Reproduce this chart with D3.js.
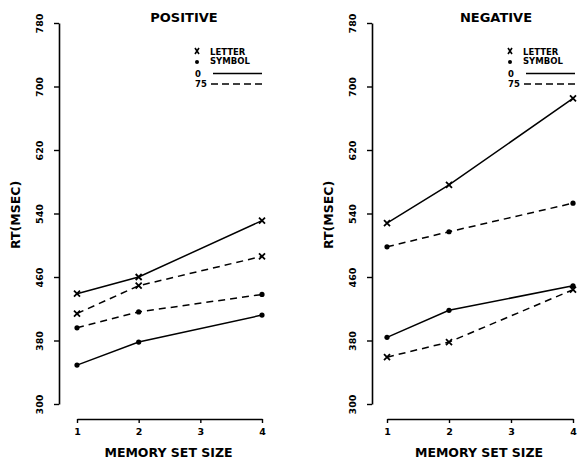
<!DOCTYPE html>
<html>
<head>
<meta charset="utf-8">
<script src="https://cdn.jsdelivr.net/npm/d3@7"></script>
<style>
  body { margin: 0; background: #fff; }
  svg text { font-family: "DejaVu Sans", sans-serif; font-weight: bold; fill: #000; }
</style>
</head>
<body>
<svg width="583" height="459"></svg>
<script>
// memory set sizes that were tested
const setSizes = [1, 2, 4];
const xTicks = [1, 2, 3, 4];
const yTicks = [300, 380, 460, 540, 620, 700, 780];

// RT in msec
const posLetter0  = [439, 460, 531];
const posLetter75 = [414, 449, 486];
const posSymbol0  = [349, 378, 412];
const posSymbol75 = [396, 416, 438];

const negLetter0  = [528, 576, 685];
const negLetter75 = [359, 378, 444];
const negSymbol0  = [384, 418, 449];
const negSymbol75 = [498, 517, 553];

const svg = d3.select("svg");

const panels = [
    { title: "POSITIVE", axisX: 59, x0: 77, x1: 262, titleX: 184, legX: 197,
      series: [
        { vals: posLetter0,  mark: "x", dash: null },
        { vals: posLetter75, mark: "x", dash: "7,5" },
        { vals: posSymbol75, mark: "o", dash: "7,5" },
        { vals: posSymbol0,  mark: "o", dash: null }
      ] },
    { title: "NEGATIVE", axisX: 372, x0: 387, x1: 573, titleX: 496, legX: 510,
      series: [
        { vals: negLetter0,  mark: "x", dash: null },
        { vals: negLetter75, mark: "x", dash: "7,5" },
        { vals: negSymbol75, mark: "o", dash: "7,5" },
        { vals: negSymbol0,  mark: "o", dash: null }
      ] }
];

function drawPanel(p) {
    const g = svg.append("g");
    const x = d3.scaleLinear().domain([1, 4]).range([p.x0, p.x1]);
    const y = d3.scaleLinear().domain([300, 780]).range([404, 23]);

    // y axis
    const ya = g.append("g")
        .attr("transform", `translate(${p.axisX},0)`)
        .call(d3.axisLeft(y).tickValues(yTicks).tickSize(5).tickSizeOuter(0).tickFormat(d3.format("d")));
    ya.select(".domain").attr("stroke-width", 1.6);
    ya.selectAll(".tick line").attr("stroke-width", 1.4);
    ya.selectAll(".tick text")
        .attr("x", 0).attr("dy", 0)
        .attr("transform", `translate(-16,0) rotate(-90)`)
        .attr("text-anchor", "middle")
        .style("font-size", "9.5px");

    // x axis
    const xa = g.append("g")
        .attr("transform", "translate(0,419)")
        .call(d3.axisBottom(x).tickValues(xTicks).tickSize(4).tickSizeOuter(0).tickFormat(d3.format("d")));
    xa.select(".domain").attr("stroke-width", 1.6);
    xa.selectAll(".tick line").attr("stroke-width", 1.4);
    xa.selectAll(".tick text").attr("y", 9).style("font-size", "9.5px");

    g.append("text")
        .attr("x", (p.x0 + p.x1) / 2 - 1).attr("y", 457)
        .attr("text-anchor", "middle")
        .style("font-size", "12.5px")
        .text("MEMORY SET SIZE");

    g.append("text")
        .attr("transform", `translate(${p.axisX - 39},215) rotate(-90)`)
        .attr("text-anchor", "middle")
        .style("font-size", "12.5px")
        .text("RT(MSEC)");

    g.append("text")
        .attr("x", p.titleX).attr("y", 22)
        .attr("text-anchor", "middle")
        .style("font-size", "13px")
        .text(p.title);

    const line = d3.line()
        .x((d, i) => x(setSizes[i]))
        .y(d => y(d));

    p.series.forEach(s => {
        g.append("path")
            .attr("d", line(s.vals))
            .attr("fill", "none")
            .attr("stroke", "#000")
            .attr("stroke-width", 1.5)
            .attr("stroke-dasharray", s.dash);

        const pts = g.selectAll(null).data(s.vals).enter();
        if (s.mark === "o") {
            pts.append("circle")
                .attr("cx", (d, i) => x(setSizes[i]))
                .attr("cy", d => y(d))
                .attr("r", 2.6)
                .attr("fill", "#000");
        } else {
            pts.append("path")
                .attr("transform", (d, i) => `translate(${x(setSizes[i])},${y(d)})`)
                .attr("d", "M-3,-3L3,3M-3,3L3,-3")
                .attr("stroke", "#000")
                .attr("stroke-width", 1.8);
        }
    });

    // legend
    const lg = g.append("g").attr("transform", `translate(${p.legX},0)`);
    lg.append("path").attr("d", "M-2,48L2,54M-2,54L2,48").attr("stroke", "#000").attr("stroke-width", 1.6);
    lg.append("text").attr("x", 13).attr("y", 55).style("font-size", "8.5px").text("LETTER");
    lg.append("circle").attr("cx", 0).attr("cy", 62).attr("r", 2).attr("fill", "#000");
    lg.append("text").attr("x", 13).attr("y", 64).style("font-size", "8.5px").text("SYMBOL");
    lg.append("text").attr("x", -2).attr("y", 77).style("font-size", "8.5px").text("0");
    lg.append("line").attr("x1", 16).attr("x2", 65).attr("y1", 73.5).attr("y2", 73.5)
        .attr("stroke", "#000").attr("stroke-width", 1.4);
    lg.append("text").attr("x", -2).attr("y", 87).style("font-size", "8.5px").text("75");
    lg.append("line").attr("x1", 14).attr("x2", 65).attr("y1", 84).attr("y2", 84)
        .attr("stroke", "#000").attr("stroke-width", 1.4).attr("stroke-dasharray", "7,4");
}

panels.forEach(drawPanel);
</script>
</body>
</html>
